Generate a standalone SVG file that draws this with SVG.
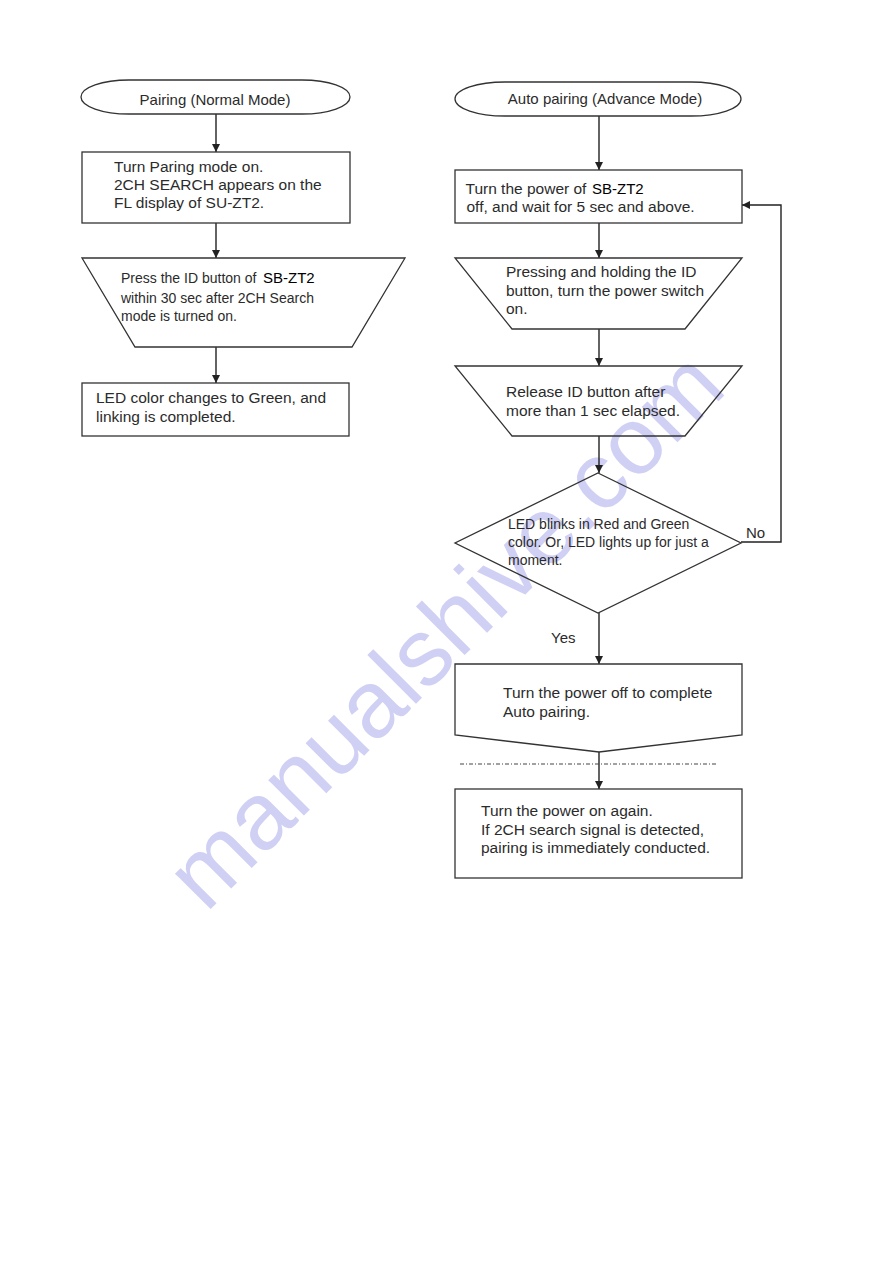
<svg xmlns="http://www.w3.org/2000/svg" width="893" height="1263" viewBox="0 0 893 1263">
<defs>
<marker id="arr" viewBox="0 0 10 10" refX="10" refY="5" markerWidth="8" markerHeight="8" markerUnits="userSpaceOnUse" orient="auto">
<path d="M0,0 L10,5 L0,10 z" fill="#222"/>
</marker>
<style>
.shape{fill:none;stroke:#333;stroke-width:1.3}
.t{font-family:"Liberation Sans",Arial,sans-serif;font-size:15.5px;fill:#2b2b2b}
.s14{font-size:14px}
.s15{font-size:15px}
.dark{fill:#000;font-size:15px}
.conn{fill:none;stroke:#222;stroke-width:1.4}
.wm{font-family:"Liberation Sans",Arial,sans-serif;font-size:95px;fill:#d0d0f4}
</style>
</defs>
<rect width="893" height="1263" fill="#fff"/>
<text class="wm" x="444" y="629" text-anchor="middle" dominant-baseline="central" transform="rotate(-45 444 629)">manualshive.com</text>

<g id="connectors">
<line class="conn" x1="216" y1="114" x2="216" y2="152" marker-end="url(#arr)"/>
<line class="conn" x1="216" y1="223" x2="216" y2="258" marker-end="url(#arr)"/>
<line class="conn" x1="216" y1="347" x2="216" y2="383" marker-end="url(#arr)"/>
<line class="conn" x1="599" y1="116" x2="599" y2="170" marker-end="url(#arr)"/>
<line class="conn" x1="599" y1="223" x2="599" y2="258" marker-end="url(#arr)"/>
<line class="conn" x1="599" y1="329" x2="599" y2="366" marker-end="url(#arr)"/>
<line class="conn" x1="599" y1="436" x2="599" y2="473" marker-end="url(#arr)"/>
<line class="conn" x1="599" y1="613" x2="599" y2="664" marker-end="url(#arr)"/>
<line class="conn" x1="599" y1="752" x2="599" y2="789" marker-end="url(#arr)"/>
<polyline class="conn" points="741,542 781,542 781,205 742,205" marker-end="url(#arr)"/>
<text class="t s15" x="746" y="538">No</text>
<text class="t s15" x="551" y="643">Yes</text>
<line x1="460" y1="764" x2="717" y2="764" stroke="#444" stroke-width="1" stroke-dasharray="4 2 1 2"/>
</g>

<g id="n_pairing_normal">
<rect class="shape" x="81" y="80" width="269" height="34" rx="48" ry="17"/>
<text class="t s15" x="215" y="105" text-anchor="middle">Pairing (Normal Mode)</text>
</g>
<g id="n_turn_paring">
<rect class="shape" x="82" y="152" width="268" height="71"/>
<text class="t" x="114" y="172">Turn Paring mode on.</text>
<text class="t" x="114" y="190">2CH SEARCH appears on the</text>
<text class="t" x="114" y="208">FL display of SU-ZT2.</text>
</g>
<g id="n_press_id">
<polygon class="shape" points="82,258 405,258 352,347 135,347"/>
<text class="t s14" x="121" y="283">Press the ID button of <tspan class="dark" x="263">SB-ZT2</tspan></text>
<text class="t s14" x="121" y="302.5">within 30 sec after 2CH Search</text>
<text class="t s14" x="121" y="321">mode is turned on.</text>
</g>
<g id="n_led_green">
<rect class="shape" x="82" y="383" width="267" height="53"/>
<text class="t" x="96" y="403">LED color changes to Green, and</text>
<text class="t" x="96" y="421.5">linking is completed.</text>
</g>

<g id="n_auto_pairing">
<rect class="shape" x="455" y="82" width="286" height="34" rx="50" ry="17"/>
<text class="t s15" x="605" y="103.5" text-anchor="middle">Auto pairing (Advance Mode)</text>
</g>
<g id="n_power_off">
<rect class="shape" x="455" y="170" width="287" height="53"/>
<text class="t" x="465.5" y="193.5">Turn the power of <tspan class="dark" x="592">SB-ZT2</tspan></text>
<text class="t" x="466.5" y="211.5">off, and wait for 5 sec and above.</text>
</g>
<g id="n_press_hold">
<polygon class="shape" points="455,258 742,258 685,329 512,329"/>
<text class="t" x="506" y="277">Pressing and holding the ID</text>
<text class="t" x="506" y="295.5">button, turn the power switch</text>
<text class="t" x="506" y="314">on.</text>
</g>
<g id="n_release_id">
<polygon class="shape" points="455,366 742,366 685,436 512,436"/>
<text class="t" x="506" y="397">Release ID button after</text>
<text class="t" x="506" y="415.5">more than 1 sec elapsed.</text>
</g>
<g id="n_led_blinks">
<polygon class="shape" points="598,473 741,543 598,613 455,543"/>
<text class="t s14" x="508" y="528.5">LED blinks in Red and Green</text>
<text class="t s14" x="508" y="547">color. Or, LED lights up for just a</text>
<text class="t s14" x="508" y="565">moment.</text>
</g>
<g id="n_power_off_complete">
<polygon class="shape" points="455,664 742,664 742,735 599,752 455,735"/>
<text class="t" x="503" y="698">Turn the power off to complete</text>
<text class="t" x="503" y="716.5">Auto pairing.</text>
</g>
<g id="n_power_on_again">
<rect class="shape" x="455" y="789" width="287" height="89"/>
<text class="t" x="481" y="816">Turn the power on again.</text>
<text class="t" x="481" y="834.5">If 2CH search signal is detected,</text>
<text class="t" x="481" y="852.5">pairing is immediately conducted.</text>
</g>
</svg>
